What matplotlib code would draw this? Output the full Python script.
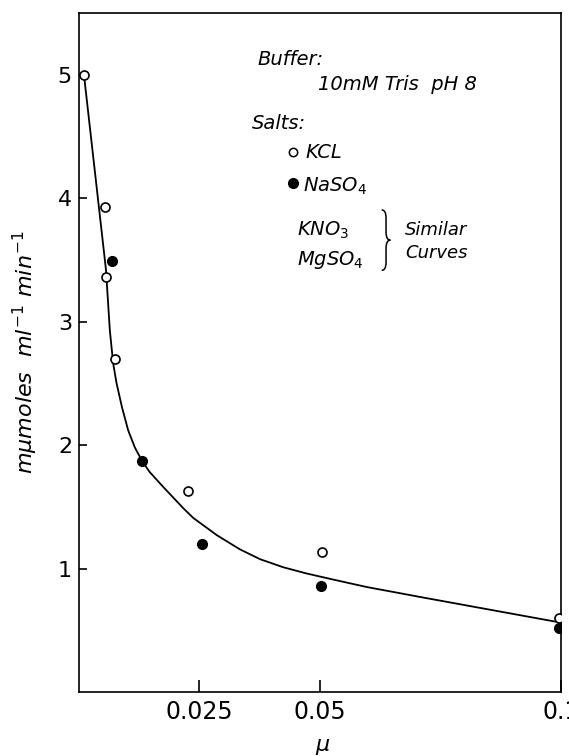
import numpy as np
from matplotlib import pyplot as plt
from matplotlib.path import Path
from matplotlib.patches import PathPatch

# Ionic strength (mu) and rate
kclMu = [0.001, 0.0054, 0.0056, 0.0074, 0.0227, 0.0504, 0.0996]
kclRate = [5.00, 3.93, 3.36, 2.70, 1.63, 1.13, 0.60]

naMu = [0.0069, 0.0130, 0.0256, 0.0502, 0.0996]
naRate = [3.49, 1.87, 1.20, 0.86, 0.52]

# Hand drawn curve through the points
curveMu = [0.00103, 0.0056, 0.0064, 0.0071, 0.0078, 0.0089, 0.0102, 0.0116,
           0.0131, 0.0147, 0.0175, 0.0216, 0.0237, 0.0286, 0.0334, 0.0376,
           0.0424, 0.0472, 0.0528, 0.0597, 0.0666, 0.0707, 0.0988]
curveRate = [5.00, 3.42, 2.93, 2.66, 2.50, 2.31, 2.12, 1.98,
             1.87, 1.78, 1.66, 1.49, 1.41, 1.27, 1.155, 1.075,
             1.01, 0.96, 0.91, 0.85, 0.80, 0.77, 0.57]

xTicks = [0.025, 0.05, 0.1]
xTickLabels = ["0.025", "0.05", "0.1"]
yTicks = [1, 2, 3, 4, 5]
yTickLabels = ["1", "2", "3", "4", "5"]

plt.rcParams['font.family'] = ['DejaVu Sans']
plt.rcParams['mathtext.fontset'] = 'dejavusans'

def Brace(axes, x0, yTop, yBot, w):
    """ Thin right-facing curly brace in axes coordinates """
    ym = (yTop + yBot) / 2
    xc = x0 + w / 2
    k = 0.012
    verts = [(x0, yTop), (xc, yTop), (xc, yTop - k),
             (xc, ym + k),
             (xc, ym), (x0 + w, ym),
             (xc, ym), (xc, ym - k),
             (xc, yBot + k),
             (xc, yBot), (x0, yBot)]
    codes = [Path.MOVETO, Path.CURVE3, Path.CURVE3,
             Path.LINETO,
             Path.CURVE3, Path.CURVE3,
             Path.CURVE3, Path.CURVE3,
             Path.LINETO,
             Path.CURVE3, Path.CURVE3]
    axes.add_patch(PathPatch(Path(verts, codes), fc='none', ec='k', lw=1.1,
                             transform=axes.transAxes, clip_on=False))

def Render():
    """ Draw the rate vs ionic strength plot """
    figure = plt.figure(figsize=(5.69, 7.56), dpi=100)
    axes = figure.add_axes([0.1388, 0.0847, 0.8472, 0.8981])

    axes.plot(curveMu, curveRate, color='k', lw=1.3, zorder=2)
    axes.plot(naMu, naRate, 'o', ms=7, mfc='k', mec='k', zorder=3)
    axes.plot(kclMu, kclRate, 'o', ms=6.5, mfc='w', mec='k', mew=1.2, zorder=4)

    axes.set_xlim(0, 0.1)
    axes.set_ylim(0, 5.5)
    axes.set_xticks(xTicks)
    axes.set_xticklabels(xTickLabels)
    axes.set_yticks(yTicks)
    axes.set_yticklabels(yTickLabels)
    axes.tick_params(axis='x', direction='in', length=9, width=1.2, pad=6, labelsize=17)
    axes.tick_params(axis='y', direction='in', length=6, width=1.2, pad=5, labelsize=16)
    for s in axes.spines.values():
        s.set_linewidth(1.2)

    axes.set_ylabel(r"$m\mu moles\ \ ml^{-1}\ min^{-1}$", fontsize=16)
    axes.yaxis.set_label_coords(-0.08, 0.5)
    axes.set_xlabel(r"$\mu$", fontsize=16)
    axes.xaxis.set_label_coords(0.506, -0.066)

    # Legend written in the plot
    tr = axes.transAxes
    axes.text(0.371, 0.931, "Buffer:", transform=tr, fontsize=14, style='italic', va='center')
    axes.text(0.496, 0.894, "10mM Tris  pH 8", transform=tr, fontsize=14, style='italic', va='center')
    axes.text(0.359, 0.837, "Salts:", transform=tr, fontsize=14, style='italic', va='center')
    axes.plot([0.444], [0.795], 'o', ms=6, mfc='w', mec='k', mew=1.1, transform=tr, clip_on=False)
    axes.text(0.469, 0.795, "KCL", transform=tr, fontsize=14, style='italic', va='center')
    axes.plot([0.444], [0.750], 'o', ms=7, mfc='k', mec='k', transform=tr, clip_on=False)
    axes.text(0.465, 0.745, r"$NaSO_4$", transform=tr, fontsize=14, va='center')
    axes.text(0.452, 0.680, r"$KNO_3$", transform=tr, fontsize=14, va='center')
    axes.text(0.452, 0.636, r"$MgSO_4$", transform=tr, fontsize=14, va='center')
    Brace(axes, 0.628, 0.710, 0.621, 0.018)
    axes.text(0.676, 0.680, "Similar", transform=tr, fontsize=13, style='italic', va='center')
    axes.text(0.676, 0.646, "Curves", transform=tr, fontsize=13, style='italic', va='center')

    figure.savefig("out.png", dpi=100)

if __name__ == "__main__":
    Render()
